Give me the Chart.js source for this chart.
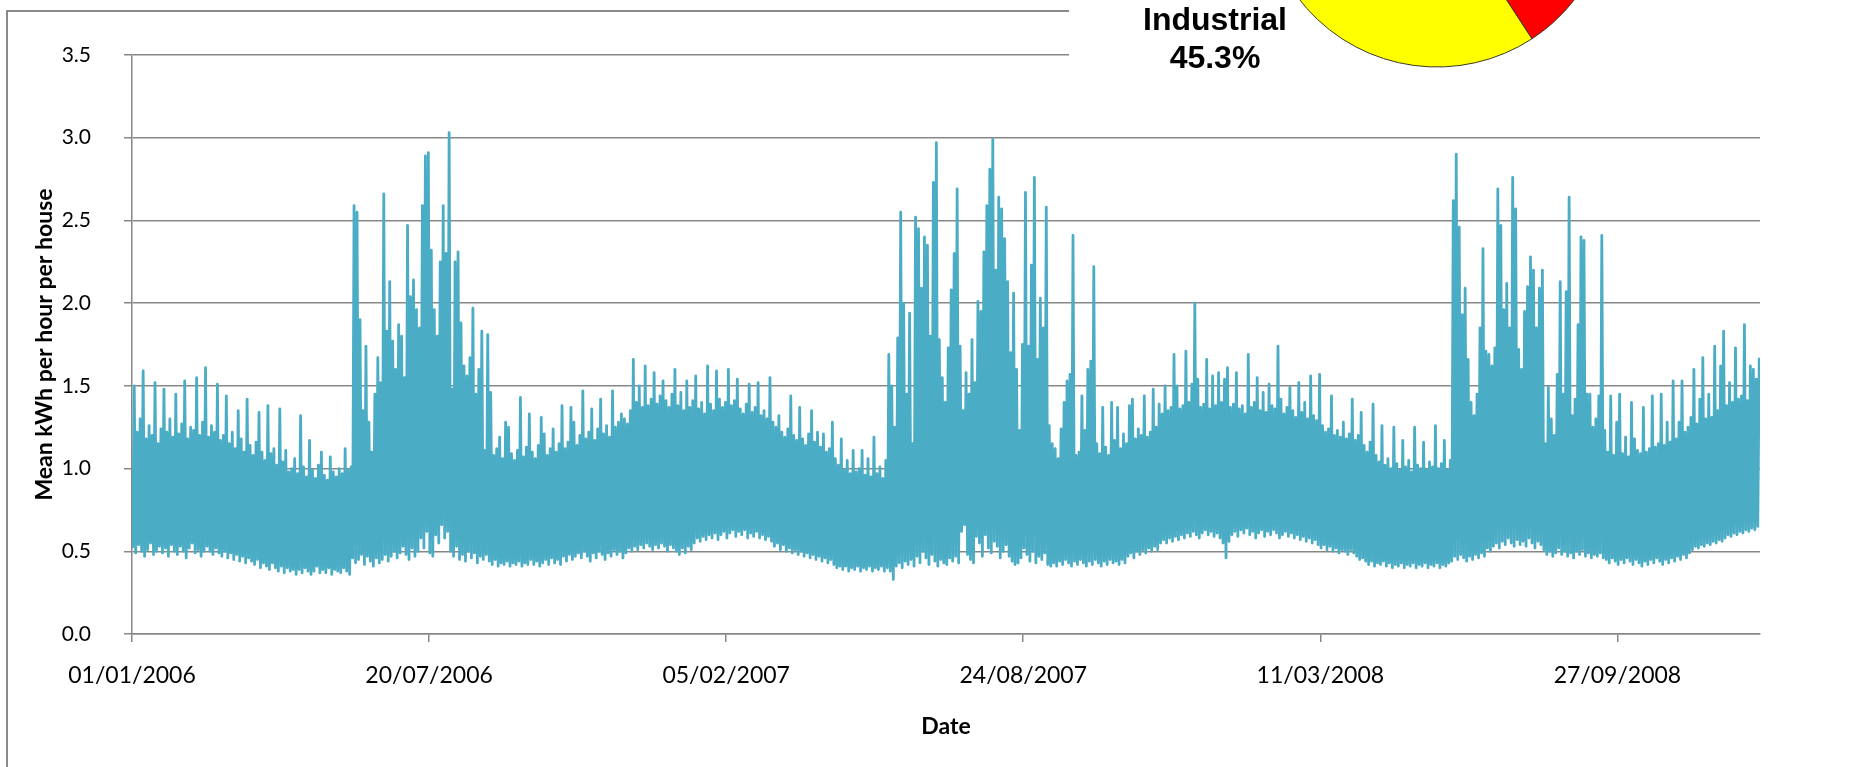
<!DOCTYPE html>
<html>
<head>
<meta charset="utf-8">
<title>Mean kWh per hour per house</title>
<script src="https://cdn.jsdelivr.net/npm/chart.js@4.4.1/dist/chart.umd.min.js"></script>
<style>
  html, body { margin: 0; padding: 0; background: #fff; overflow: hidden; }
  #stage { position: relative; width: 1849px; height: 767px; overflow: hidden; background: #fff; }
  #frame { position: absolute; left: 6px; top: 10px; width: 2000px; height: 1000px;
           border-left: 2px solid #8a8a8a; border-top: 2px solid #8a8a8a; }
  #main { position: absolute; left: 0; top: 0; }
  #inset { position: absolute; left: 1069px; top: 0; width: 780px; height: 92px;
           background: #fff; overflow: hidden; }
  #pie { position: absolute; left: 168px; top: -307px; }
  #pieLabel { position: absolute; left: 46px; top: 0; width: 200px; text-align: center;
              font-family: 'Liberation Sans', Arial, sans-serif; font-weight: bold;
              font-size: 32px; line-height: 38px; color: #000; }
</style>
</head>
<body>
<div id="stage">
  <div id="frame"></div>
  <canvas id="main" width="1849" height="767"></canvas>
  <div id="inset">
    <canvas id="pie" width="400" height="400"></canvas>
    <div id="pieLabel"></div>
  </div>
</div>
<script>
// Hourly mean consumption, summarised as two-day bins counted from 01/01/2006:
// for each bin the lowest and the highest hourly reading (kWh per house).
const lows2006 = [
  0.52, 0.49, 0.54, 0.50, 0.47,
  0.51, 0.55, 0.48, 0.50, 0.53,
  0.49, 0.52, 0.47, 0.54, 0.50,
  0.48, 0.53, 0.50, 0.46, 0.52,
  0.55, 0.49, 0.51, 0.47, 0.50,
  0.53, 0.50, 0.48, 0.52, 0.49,
  0.47, 0.50, 0.46, 0.49, 0.45,
  0.48, 0.44, 0.47, 0.43, 0.46,
  0.44, 0.42, 0.45, 0.40, 0.43,
  0.41, 0.39, 0.43, 0.40, 0.38,
  0.41, 0.37, 0.40, 0.38, 0.39,
  0.36, 0.39, 0.37, 0.40, 0.38,
  0.36, 0.38, 0.41, 0.37, 0.39,
  0.37, 0.40, 0.36, 0.39, 0.38,
  0.37, 0.40, 0.38, 0.36,
  0.46, 0.43, 0.45, 0.48, 0.42, 0.47, 0.44, 0.41, 0.46, 0.43,
  0.45, 0.48, 0.44, 0.47, 0.50, 0.46, 0.49, 0.53, 0.48, 0.45,
  0.52, 0.47, 0.50, 0.58, 0.52, 0.62, 0.49, 0.47, 0.60, 0.55,
  0.66, 0.58, 0.62, 0.50, 0.47, 0.53, 0.45, 0.48, 0.44, 0.50,
  0.46, 0.49, 0.43, 0.47, 0.45, 0.48,
  0.44, 0.42, 0.45, 0.41, 0.43, 0.42, 0.44, 0.41, 0.43, 0.42,
  0.44, 0.41, 0.43, 0.42, 0.45, 0.42, 0.44, 0.41, 0.43, 0.45,
  0.42, 0.46, 0.43, 0.45, 0.42, 0.47, 0.44, 0.48, 0.45, 0.47,
  0.49, 0.46, 0.50, 0.47, 0.44, 0.49, 0.46, 0.50, 0.48, 0.45,
  0.49, 0.47, 0.51, 0.48, 0.50, 0.46, 0.49, 0.52, 0.50, 0.53,
  0.51, 0.54, 0.52, 0.55, 0.53, 0.51, 0.54, 0.52, 0.55, 0.53,
  0.50, 0.54, 0.52
];
const highs2006 = [
  1.50, 1.22, 1.30, 1.59, 1.18,
  1.26, 1.20, 1.52, 1.15, 1.24,
  1.48, 1.22, 1.30, 1.19, 1.45,
  1.21, 1.27, 1.53, 1.18, 1.25,
  1.23, 1.55, 1.20, 1.28, 1.61,
  1.19, 1.26, 1.22, 1.51, 1.17,
  1.20, 1.44, 1.15, 1.22, 1.12,
  1.35, 1.18, 1.10, 1.42, 1.14,
  1.08, 1.16, 1.34, 1.10, 1.05,
  1.38, 1.09, 1.12, 1.02, 1.36,
  1.04, 1.11, 0.98, 1.00, 1.06,
  0.97, 1.32, 1.01, 0.95, 1.17,
  0.99, 0.94, 1.02, 1.10, 0.96,
  0.93, 1.07, 0.98, 0.95, 1.00,
  0.97, 1.12, 0.99, 1.01,
  2.59, 2.55, 1.90, 1.35, 1.74, 1.28, 1.10, 1.45, 1.67, 1.52,
  2.66, 1.83, 2.13, 1.77, 1.60, 1.87, 1.80, 1.55, 2.47, 2.04,
  2.14, 1.96, 1.85, 2.59, 2.89, 2.91, 2.32, 1.96, 1.80, 2.25,
  2.59, 2.30, 3.03, 1.48, 2.25, 2.31, 1.88, 1.62, 1.56, 1.67,
  1.97, 1.45, 1.60, 1.83, 1.11, 1.81,
  1.46, 1.08, 1.12, 1.19, 1.06, 1.28, 1.25, 1.09, 1.05, 1.11,
  1.43, 1.07, 1.13, 1.33, 1.10, 1.06, 1.14, 1.31, 1.21, 1.08,
  1.12, 1.24, 1.10, 1.15, 1.38, 1.12, 1.16, 1.37, 1.28, 1.14,
  1.20, 1.47, 1.18, 1.22, 1.36, 1.17, 1.24, 1.42, 1.21, 1.26,
  1.19, 1.47, 1.25, 1.28, 1.33, 1.30, 1.27, 1.35, 1.66, 1.40,
  1.50, 1.37, 1.62, 1.38, 1.42, 1.58, 1.39, 1.44, 1.53, 1.41,
  1.37, 1.45, 1.60
];
const lows2007 = [
  0.50, 0.48, 0.52, 0.49, 0.53, 0.51, 0.55, 0.58, 0.56, 0.59,
  0.57, 0.60, 0.58, 0.61, 0.57, 0.60, 0.62, 0.58, 0.61, 0.63,
  0.59, 0.62, 0.60, 0.63, 0.58, 0.61, 0.59, 0.62, 0.58, 0.60,
  0.57, 0.59, 0.56, 0.53, 0.55, 0.51, 0.54, 0.50, 0.52, 0.49,
  0.51, 0.48, 0.50, 0.47, 0.49, 0.46, 0.48, 0.45, 0.47, 0.44,
  0.46, 0.43, 0.45, 0.42, 0.40, 0.41, 0.39, 0.41, 0.38, 0.40,
  0.39, 0.41, 0.38, 0.40, 0.39, 0.41, 0.38, 0.40, 0.39, 0.41, 0.38,
  0.40, 0.38, 0.33, 0.41, 0.43, 0.40, 0.44, 0.42, 0.45, 0.41,
  0.47, 0.43, 0.50, 0.46, 0.42, 0.48, 0.44, 0.41, 0.45, 0.43,
  0.42, 0.46, 0.44, 0.47, 0.43, 0.62, 0.66, 0.48, 0.45, 0.43,
  0.59, 0.55, 0.47, 0.60, 0.52, 0.49, 0.56, 0.53, 0.46, 0.50,
  0.54, 0.47, 0.44, 0.42, 0.43, 0.46, 0.52, 0.48, 0.44, 0.50,
  0.43, 0.47, 0.45, 0.49, 0.42, 0.41,
  0.43, 0.41, 0.44, 0.42, 0.45, 0.43, 0.41, 0.44, 0.42, 0.45,
  0.43, 0.41, 0.44, 0.42, 0.45, 0.43, 0.41, 0.44, 0.42, 0.45,
  0.43, 0.44, 0.42, 0.45, 0.43, 0.47, 0.49, 0.46, 0.50, 0.48,
  0.51, 0.49, 0.52, 0.50, 0.53, 0.51, 0.55, 0.57, 0.55, 0.58,
  0.56, 0.59, 0.57, 0.60, 0.58, 0.61, 0.59, 0.62, 0.60, 0.58,
  0.61, 0.63, 0.60, 0.62, 0.59, 0.61
];
const highs2007 = [
  1.38, 1.46, 1.35, 1.53, 1.37, 1.41, 1.56, 1.36, 1.40, 1.33,
  1.62, 1.39, 1.35, 1.59, 1.42, 1.37, 1.40, 1.60, 1.38, 1.41,
  1.54, 1.36, 1.33, 1.39, 1.51, 1.34, 1.37, 1.52, 1.32, 1.35,
  1.30, 1.55, 1.28, 1.25, 1.32, 1.22, 1.19, 1.24, 1.44, 1.20,
  1.17, 1.37, 1.18, 1.14, 1.21, 1.35, 1.16, 1.22, 1.13, 1.21,
  1.10, 1.12, 1.28, 1.06, 1.02, 1.18, 0.99, 1.05, 0.97, 1.11,
  0.98, 1.00, 1.11, 0.96, 1.06, 0.95, 1.19, 0.97, 1.01, 0.94, 1.05,
  1.69, 1.50, 1.25, 1.79, 2.55, 2.00, 1.45, 1.94, 1.15, 2.52,
  2.45, 2.09, 2.40, 2.35, 1.80, 2.73, 2.97, 1.78, 1.55, 1.40,
  1.73, 2.08, 2.30, 2.69, 1.74, 1.35, 1.58, 1.45, 1.78, 1.52,
  2.01, 1.95, 2.31, 2.59, 2.81, 2.99, 2.20, 2.64, 2.57, 2.39,
  2.13, 1.70, 2.06, 1.60, 1.23, 1.75, 2.67, 1.74, 2.23, 2.76,
  1.66, 2.03, 1.85, 2.58, 1.26, 1.15,
  1.12, 1.06, 1.24, 1.40, 1.53, 1.57, 2.41, 1.08, 1.10, 1.44,
  1.23, 1.60, 1.65, 2.22, 1.15, 1.09, 1.37, 1.13, 1.08, 1.40,
  1.17, 1.37, 1.12, 1.21, 1.15, 1.38, 1.42, 1.18, 1.24, 1.20,
  1.44, 1.19, 1.22, 1.48, 1.25, 1.39, 1.33, 1.50, 1.35, 1.37,
  1.69, 1.50, 1.36, 1.38, 1.71, 1.40, 1.51, 2.00, 1.54, 1.37,
  1.39, 1.66, 1.36, 1.56, 1.38, 1.58
];
const lows2008 = [
  0.58, 0.55, 0.46, 0.56, 0.60, 0.62, 0.59, 0.63, 0.61, 0.64,
  0.60, 0.62, 0.58, 0.61, 0.63, 0.59, 0.62, 0.60, 0.63, 0.61,
  0.58, 0.60, 0.62, 0.59, 0.61, 0.58, 0.60, 0.57, 0.59, 0.56,
  0.58, 0.55, 0.57, 0.54, 0.52, 0.54, 0.51, 0.53, 0.50, 0.52,
  0.49, 0.51, 0.50, 0.48, 0.51, 0.49, 0.47, 0.45, 0.46, 0.44,
  0.42, 0.44, 0.41, 0.43, 0.42, 0.44, 0.41, 0.43, 0.40, 0.42,
  0.41, 0.43, 0.40, 0.42, 0.41, 0.43, 0.40, 0.42, 0.41, 0.43,
  0.40, 0.42, 0.41, 0.43, 0.40, 0.42, 0.41, 0.43,
  0.44, 0.47, 0.45, 0.48, 0.46, 0.44, 0.47, 0.45, 0.48, 0.46,
  0.49, 0.47, 0.52, 0.50, 0.53, 0.55, 0.52, 0.56, 0.54, 0.58,
  0.55, 0.53, 0.57, 0.54, 0.56, 0.53, 0.58, 0.55, 0.52, 0.56,
  0.54, 0.51, 0.48, 0.50, 0.47, 0.49, 0.52, 0.48, 0.50, 0.47,
  0.49, 0.46, 0.50, 0.48, 0.51, 0.47, 0.49, 0.46, 0.48, 0.47, 0.49, 0.46,
  0.45, 0.43, 0.46, 0.44, 0.42, 0.45, 0.43, 0.46, 0.44, 0.42,
  0.45, 0.43, 0.41, 0.44, 0.42, 0.45, 0.43, 0.46, 0.44, 0.42,
  0.45, 0.43, 0.46, 0.44, 0.47, 0.45, 0.48, 0.46, 0.49, 0.51,
  0.53, 0.52, 0.54, 0.53, 0.55, 0.54, 0.56, 0.55, 0.57, 0.56,
  0.58, 0.60, 0.59, 0.61, 0.60, 0.62, 0.61, 0.63, 0.62, 0.64, 0.63, 0.65
];
const highs2008 = [
  1.40, 1.54, 1.61, 1.37, 1.39, 1.58, 1.36, 1.38, 1.33, 1.69,
  1.37, 1.40, 1.55, 1.35, 1.46, 1.34, 1.51, 1.38, 1.36, 1.74,
  1.42, 1.33, 1.37, 1.49, 1.35, 1.31, 1.52, 1.34, 1.40, 1.30,
  1.56, 1.32, 1.29, 1.57, 1.26, 1.22, 1.24, 1.44, 1.20, 1.23,
  1.19, 1.28, 1.18, 1.21, 1.42, 1.17, 1.20, 1.34, 1.14, 1.10,
  1.16, 1.39, 1.08, 1.04, 1.26, 1.02, 1.06, 1.00, 1.25, 1.03,
  0.99, 1.17, 1.01, 1.05, 0.98, 1.25, 1.02, 1.00, 1.16, 0.99,
  1.04, 1.01, 1.26, 1.00, 1.03, 1.17, 0.99, 1.05,
  2.62, 2.90, 2.46, 1.93, 2.09, 1.66, 1.40, 1.32, 1.45, 1.85,
  2.33, 1.71, 1.69, 1.62, 1.73, 2.69, 2.47, 1.96, 2.12, 1.85,
  2.76, 2.57, 1.72, 1.60, 1.95, 2.10, 2.28, 2.20, 1.85, 2.09,
  2.20, 1.15, 1.49, 1.30, 1.20, 1.57, 2.13, 1.45, 2.07, 2.64,
  1.32, 1.42, 1.87, 2.40, 2.38, 1.45, 1.45, 1.25, 1.30, 1.44, 2.41, 1.23,
  1.10, 1.44, 1.08, 1.28, 1.45, 1.09, 1.19, 1.07, 1.40, 1.18,
  1.11, 1.09, 1.37, 1.10, 1.12, 1.44, 1.13, 1.15, 1.45, 1.14,
  1.28, 1.16, 1.53, 1.18, 1.28, 1.53, 1.22, 1.25, 1.31, 1.60,
  1.27, 1.42, 1.67, 1.30, 1.45, 1.31, 1.74, 1.35, 1.62, 1.83,
  1.38, 1.52, 1.40, 1.73, 1.42, 1.44, 1.87, 1.41, 1.62, 1.60, 1.54, 1.67
];

// Date axis: day offsets from 01/01/2006 and their labels
const dateTickDays = [0, 200, 400, 600, 800, 1000];
const dateTickLabels = ['01/01/2006', '20/07/2006', '05/02/2007', '24/08/2007', '11/03/2008', '27/09/2008'];
const lastDay = 1096;

// Share of consumption, inset pie
const pieLabels = ['Industrial', 'Other'];
const pieShares = [45.3, 54.7];
const pieColors = ['#FFFF00', '#FF0000'];

// Build the zig-zag series: each bin contributes its low then its high
const yearBins = [[lows2006, highs2006], [lows2007, highs2007], [lows2008, highs2008]];
const seriesPoints = [];
let bin = 0;
for (const [lo, hi] of yearBins) {
  for (let k = 0; k < lo.length; k++, bin++) {
    seriesPoints.push({ x: bin * 2 + 0.5, y: lo[k] });
    seriesPoints.push({ x: bin * 2 + 1.5, y: hi[k] });
  }
}

const axisGrey = '#878787';
const uiFont = 'Lato, "Open Sans", sans-serif';

new Chart(document.getElementById('main'), {
  type: 'line',
  data: {
    datasets: [{
      data: seriesPoints,
      borderColor: '#4BACC6',
      borderWidth: 2.8,
      borderJoinStyle: 'round',
      pointRadius: 0,
      tension: 0,
      fill: false
    }]
  },
  options: {
    responsive: false,
    animation: false,
    devicePixelRatio: 1,
    layout: { padding: { top: 55, right: 89, left: 0, bottom: 0 } },
    plugins: { legend: { display: false }, tooltip: { enabled: false } },
    scales: {
      x: {
        type: 'linear',
        min: 0,
        max: lastDay,
        afterFit(scale) { scale.height = 133; },
        afterBuildTicks(scale) { scale.ticks = dateTickDays.map(v => ({ value: v })); },
        ticks: {
          callback: (v, i) => dateTickLabels[i],
          autoSkip: false, maxRotation: 0,
          color: '#000', padding: 20,
          font: { family: uiFont, size: 23 }
        },
        grid: { drawOnChartArea: false, drawTicks: true, tickLength: 8, color: axisGrey, lineWidth: 1.5 },
        border: { color: axisGrey, width: 1.5 },
        title: {
          display: true, text: 'Date', color: '#000',
          font: { family: uiFont, size: 23, weight: 'bold' },
          padding: { top: 0, bottom: 27 }
        }
      },
      y: {
        min: 0,
        max: 3.5,
        afterFit(scale) { scale.width = 132; },
        ticks: {
          stepSize: 0.5,
          callback: v => Number(v).toFixed(1),
          color: '#000', padding: 33,
          font: { family: uiFont, size: 21 }
        },
        grid: { color: axisGrey, lineWidth: 1.5, tickLength: 8 },
        border: { color: axisGrey, width: 1.5 },
        title: {
          display: true, text: 'Mean kWh per hour per house', color: '#000',
          font: { family: uiFont, size: 23, weight: 'bold' },
          padding: { top: 31, bottom: 0 }
        }
      }
    }
  }
});

new Chart(document.getElementById('pie'), {
  type: 'pie',
  data: {
    labels: pieLabels,
    datasets: [{
      data: pieShares,
      backgroundColor: pieColors,
      borderColor: '#3b3b20',
      borderWidth: 1
    }]
  },
  options: {
    responsive: false,
    animation: false,
    devicePixelRatio: 1,
    radius: 174,
    rotation: 146.9,
    layout: { padding: 0 },
    plugins: { legend: { display: false }, tooltip: { enabled: false } }
  }
});

document.getElementById('pieLabel').innerHTML =
  pieLabels[0] + '<br>' + pieShares[0].toFixed(1) + '%';
</script>
</body>
</html>
